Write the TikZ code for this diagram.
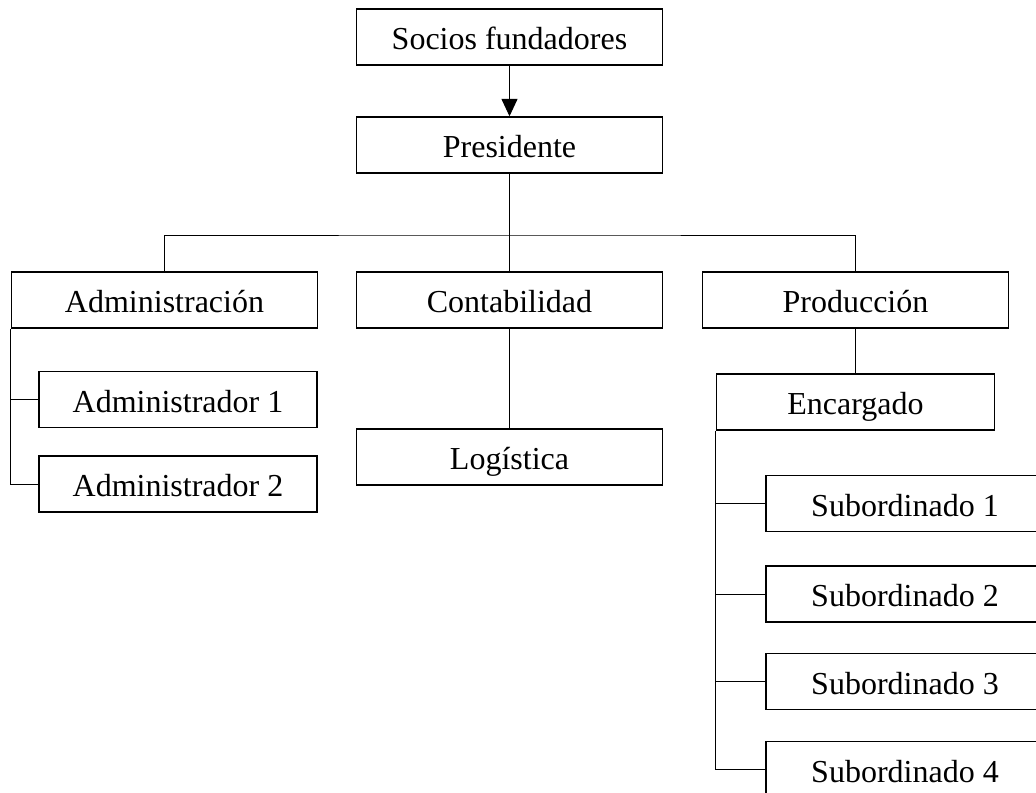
\documentclass[tikz,border=0pt]{standalone}
\usepackage{fontspec}
\setmainfont{Liberation Serif}
\usetikzlibrary{arrows.meta}
\begin{document}
\begin{tikzpicture}[x=0.75pt,y=-0.75pt,
        box/.style={draw, line width=1.1pt, inner sep=0pt, minimum height=56*0.75pt,
          font=\fontsize{24}{28}\selectfont, text height=24pt, text depth=5pt},
        wide/.style={box, minimum width=306*0.75pt},
        narrow/.style={box, minimum width=278*0.75pt},
        link/.style={line width=0.7pt}]
        \useasboundingbox (0,0) rectangle (1036,793);
        \clip (0,0) rectangle (1036,793);
        \node[wide] (socios) at (509.5,37) {Socios fundadores};
        \node[wide] (pres) at (509.5,145) {Presidente};
        \node[wide] (admin) at (164.5,300) {Administración};
        \node[wide] (conta) at (509.5,300) {Contabilidad};
        \node[wide] (prod) at (855.5,300) {Producción};
        \node[wide] (log) at (509.5,457) {Logística};
        \node[narrow] (adm1) at (178,399.5) {Administrador 1};
        \node[narrow] (adm2) at (178,484) {Administrador 2};
        \node[narrow] (enc) at (855.5,402) {Encargado};
        \node[narrow] (sub1) at (905,503.5) {Subordinado 1};
        \node[narrow] (sub2) at (905,594) {Subordinado 2};
        \node[narrow] (sub3) at (905,681.5) {Subordinado 3};
        \node[narrow] (sub4) at (905,769.5) {Subordinado 4};
        \coordinate (bar) at (509.5,235);
        % connectors
        \draw[link,-{Triangle[width=12pt,length=13pt]}] (socios) -- (pres);
        \draw[link] (pres) -- (conta);
        \draw[link] (admin.north) |- (bar) -| (prod.north);
        \draw[link] (conta) -- (log);
        \draw[link] (prod) -- (enc);
        \draw[link] (admin.south west) |- (adm2.west);
        \draw[link] (adm1.west) -- (adm1.west -| admin.south west);
        \draw[link] (enc.south west) |- (sub4.west);
        \foreach \i in {1,2,3}
          \draw[link] (sub\i.west) -- (sub\i.west -| enc.south west);
    \end{tikzpicture}
\end{document}
